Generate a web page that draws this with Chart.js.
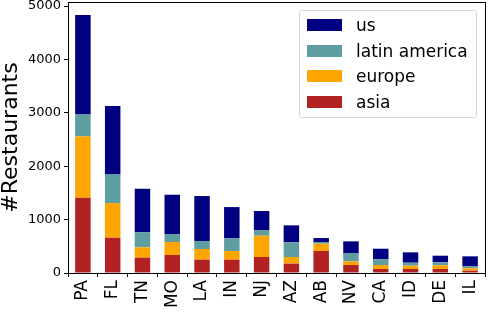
<!DOCTYPE html>
<html>
<head>
<meta charset="utf-8">
<script src="https://cdn.jsdelivr.net/npm/chart.js@4"></script>
<style>
  html, body { margin: 0; padding: 0; background: #fff; }
  #wrap { position: relative; width: 488px; height: 314px; }
  #legend {
    position: absolute; left: 299px; top: 10px; width: 178px; height: 108px; box-sizing: border-box;
    border: 1px solid #d6d6d6; border-radius: 3px; background: rgba(255,255,255,0.8);
    font-family: 'DejaVu Sans', sans-serif; font-size: 17px; color: #000;
  }
  #legend .row { position: absolute; left: 0; height: 20px; line-height: 20px; white-space: nowrap; }
  #legend .sw { position: absolute; left: 7px; top: 4px; width: 35px; height: 12px; }
  #legend .lb { position: absolute; left: 56px; top: 0; }
</style>
</head>
<body>
<div id="wrap">
  <canvas id="chart" width="488" height="314"></canvas>
  <div id="legend"></div>
</div>
<script>
// states, ordered by total restaurants
const states = ['PA', 'FL', 'TN', 'MO', 'LA', 'IN', 'NJ', 'AZ', 'AB', 'NV', 'CA', 'ID', 'DE', 'IL'];

// stacked from the bottom up
const asia         = [1410, 660, 287, 337, 250, 250, 300, 175, 412, 150, 75, 75, 75, 43];
const europe       = [1150, 650, 194, 243, 200, 162, 399, 125, 137, 68, 75, 62, 69, 45];
const latinAmerica = [410, 537, 281, 150, 150, 237, 106, 275, 31, 156, 106, 56, 56, 37];
const us           = [1865, 1280, 816, 736, 842, 586, 356, 318, 75, 219, 199, 194, 124, 187];

const yTicks = [0, 1000, 2000, 3000, 4000, 5000];

const series = [
  { name: 'asia', data: asia, color: '#b22222' },
  { name: 'europe', data: europe, color: '#ffa500' },
  { name: 'latin america', data: latinAmerica, color: '#5f9ea0' },
  { name: 'us', data: us, color: '#000080' }
];

const font = 'DejaVu Sans';

// box round the plot, like matplotlib's spines
const frame = {
  id: 'frame',
  afterDraw(chart) {
    const a = chart.chartArea;
    const ctx = chart.ctx;
    ctx.save();
    ctx.strokeStyle = '#000';
    ctx.lineWidth = 1;
    ctx.strokeRect(Math.round(a.left) + 0.5, Math.round(a.top) + 0.5,
      Math.round(a.right - a.left), Math.round(a.bottom - a.top));
    ctx.restore();
  }
};

new Chart(document.getElementById('chart').getContext('2d'), {
  type: 'bar',
  data: {
    labels: states,
    datasets: series.map(s => ({
      label: s.name,
      data: s.data,
      backgroundColor: s.color,
      borderWidth: 0,
      barPercentage: 0.52,
      categoryPercentage: 1
    }))
  },
  options: {
    responsive: false,
    animation: false,
    layout: { padding: { left: 0, top: 2, right: 3, bottom: 0 } },
    plugins: { legend: { display: false }, tooltip: { enabled: false } },
    scales: {
      x: {
        stacked: true,
        grid: { drawOnChartArea: false, tickLength: 4, color: '#000' },
        border: { color: '#000' },
        ticks: { color: '#000', font: { family: font, size: 17 }, minRotation: 90, maxRotation: 90, padding: 3 },
        afterFit(scale) { scale.height = 41; scale.paddingLeft = 0; scale.paddingRight = 0; }
      },
      y: {
        stacked: true,
        min: 0,
        max: 5077,
        grid: { drawOnChartArea: false, tickLength: 4, color: '#000' },
        border: { color: '#000' },
        ticks: { color: '#000', font: { family: font, size: 13 }, padding: 3, callback: v => String(v) },
        afterBuildTicks(scale) { scale.ticks = yTicks.map(v => ({ value: v })); },
        afterFit(scale) { scale.width = 68; scale.paddingTop = 0; scale.paddingBottom = 0; },
        title: {
          display: true,
          text: '#Restaurants',
          color: '#000',
          font: { family: font, size: 22, lineHeight: 1 },
          padding: 0
        }
      }
    }
  },
  plugins: [frame]
});

// legend, top entry first
const legend = document.getElementById('legend');
series.slice().reverse().forEach((s, i) => {
  const row = document.createElement('div');
  row.className = 'row';
  row.style.top = (4 + i * 25.5) + 'px';
  row.innerHTML = '<span class="sw" style="background:' + s.color + '"></span><span class="lb">' + s.name + '</span>';
  legend.appendChild(row);
});
</script>
</body>
</html>
